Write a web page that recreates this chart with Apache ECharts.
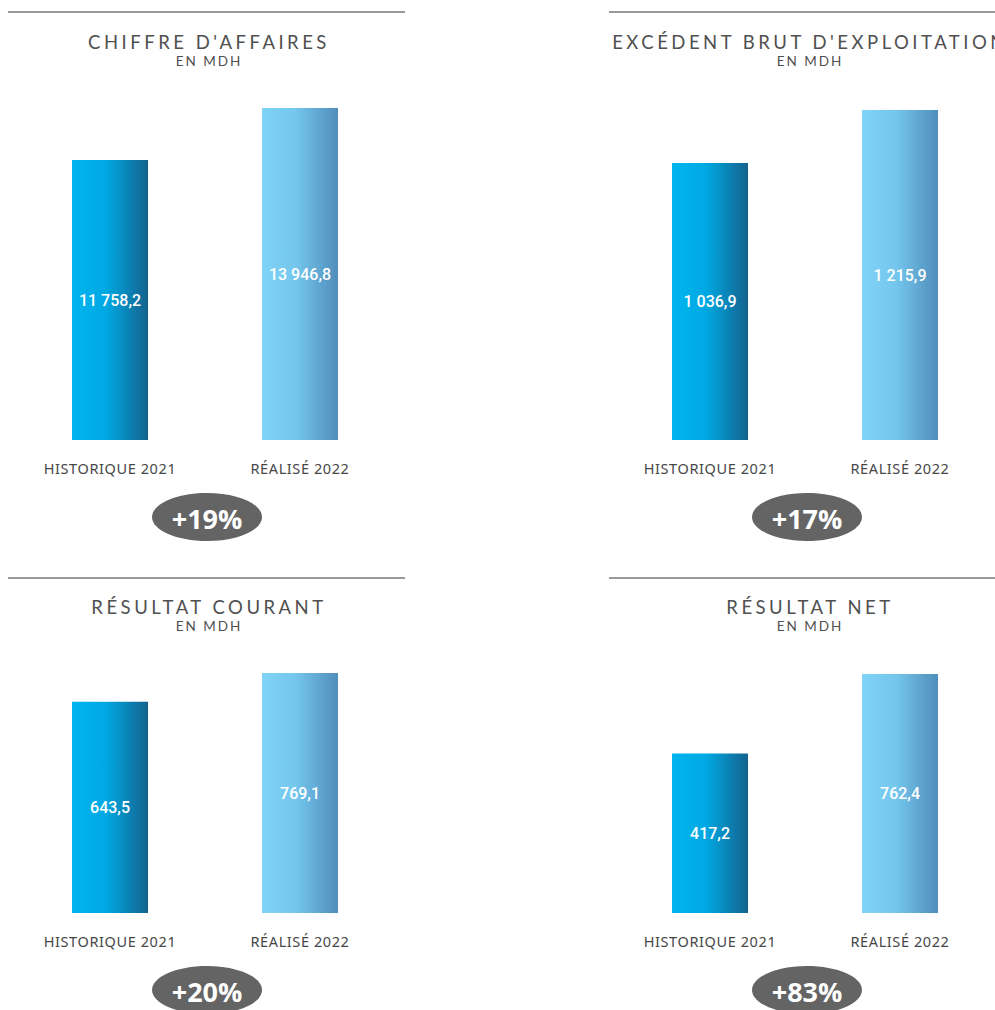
<!DOCTYPE html>
<html>
<head>
<meta charset="utf-8">
<script src="https://cdn.jsdelivr.net/npm/echarts@6/dist/echarts.min.js"></script>
<style>
  html, body { margin: 0; padding: 0; background: #fff; }
  #box { width: 995px; height: 1010px; }
  /* spaced capitals for the titles and axis labels (svg renderer) */
  #box text[style*="18.5px"] { letter-spacing: 3.5px; }
  #box text[style*="13.5px"] { letter-spacing: 2px; }
  #box text[style*="14.5px"] { letter-spacing: 0.6px; }
</style>
</head>
<body>
<div id="box"></div>
<script>
// categories and values, one array per panel
const categories = ['HISTORIQUE 2021', 'RÉALISÉ 2022'];
const panelTitles = ["CHIFFRE D'AFFAIRES", "EXCÉDENT BRUT D'EXPLOITATION", 'RÉSULTAT COURANT', 'RÉSULTAT NET'];
const unitLabel = 'EN MDH';
const chiffreAffaires = [11758.2, 13946.8];
const excedentBrut = [1036.9, 1215.9];
const resultatCourant = [643.5, 769.1];
const resultatNet = [417.2, 762.4];

const panelData = [chiffreAffaires, excedentBrut, resultatCourant, resultatNet];

// layout of each panel (axis min)
const panels = [
  { cx: 204, bx: 205, lineX: [8, 405], lineY: 12, titleY: 27, gridTop: 108, gridBottom: 440, min: 0 },
  { cx: 805, bx: 805, lineX: [609, 995], lineY: 12, titleY: 27, gridTop: 110, gridBottom: 440, min: 100 },
  { cx: 204, bx: 205, lineX: [8, 405], lineY: 578, titleY: 592, gridTop: 673, gridBottom: 913, min: -275 },
  { cx: 805, bx: 805, lineX: [609, 995], lineY: 578, titleY: 592, gridTop: 674, gridBottom: 913, min: -275 }
];

function fmt(v) {
  let parts = v.toFixed(1).split('.');
  let ent = parts[0].replace(/\B(?=(\d{3})+(?!\d))/g, ' ');
  return ent + ',' + parts[1];
}

function grad(c1, c2, c3) {
  return new echarts.graphic.LinearGradient(0, 0, 1, 0, [
    { offset: 0, color: c1 },
    { offset: 0.45, color: c2 },
    { offset: 1, color: c3 }
  ]);
}
const barColors = [
  () => grad('#00b5f0', '#00a8e2', '#14628e'),
  () => grad('#80d4f6', '#74c6ed', '#4f8dbb')
];

let myChart = echarts.init(document.getElementById('box'), null, { renderer: 'svg' });

let titles = [], grids = [], xAxes = [], yAxes = [], series = [], graphics = [];

panels.forEach((p, i) => {
  titles.push({
    text: panelTitles[i],
    subtext: unitLabel,
    left: p.cx,
    top: p.titleY,
    textAlign: 'center',
    itemGap: 3,
    textStyle: { fontFamily: 'Lato', fontSize: 18.5, fontWeight: 'normal', color: '#505050' },
    subtextStyle: { fontFamily: 'Lato', fontSize: 13.5, color: '#505050' }
  });
  grids.push({
    left: p.bx - 190,
    width: 380,
    top: p.gridTop,
    height: p.gridBottom - p.gridTop
  });
  xAxes.push({
    type: 'category',
    gridIndex: i,
    data: categories,
    axisLine: { show: false },
    axisTick: { show: false },
    axisLabel: { margin: 20, fontFamily: 'Noto Sans', fontSize: 14.5, color: '#474747' }
  });
  yAxes.push({
    type: 'value',
    gridIndex: i,
    min: p.min,
    max: 'dataMax',
    show: false,
    splitLine: { show: false }
  });
  // bars drawn from the bottom of the axis (min) up to the value
  series.push({
    type: 'custom',
    xAxisIndex: i,
    yAxisIndex: i,
    encode: { x: 0, y: 1 },
    data: panelData[i].map((v, j) => [j, v]),
    renderItem: function (params, api) {
      let idx = api.value(0);
      let top = api.coord([idx, api.value(1)]);
      let base = api.coord([idx, p.min]);
      return {
        type: 'rect',
        shape: { x: top[0] - 38, y: top[1], width: 76, height: base[1] - top[1] },
        style: { fill: barColors[idx]() },
        textContent: {
          style: {
            text: fmt(api.value(1)),
            fill: '#fff',
            font: '500 16px Roboto, sans-serif'
          }
        },
        textConfig: { position: 'inside' }
      };
    }
  });
  // top rule
  graphics.push({
    type: 'line',
    shape: { x1: p.lineX[0], y1: p.lineY, x2: p.lineX[1], y2: p.lineY },
    style: { stroke: '#777', lineWidth: 1.5 }
  });
  // growth badge
  let growth = Math.round((panelData[i][1] / panelData[i][0] - 1) * 100);
  let badgeY = p.gridBottom + 77;
  graphics.push({
    type: 'ellipse',
    shape: { cx: p.bx + 2, cy: badgeY, rx: 55, ry: 24 },
    style: { fill: '#646464' }
  });
  graphics.push({
    type: 'text',
    x: p.bx + 2,
    y: badgeY + 1,
    style: {
      text: '+' + growth + '%',
      fill: '#fff',
      font: 'bold 27px "Open Sans", sans-serif',
      align: 'center',
      verticalAlign: 'middle'
    }
  });
});

var option = {
  backgroundColor: '#fff',
  animation: false,
  title: titles,
  grid: grids,
  xAxis: xAxes,
  yAxis: yAxes,
  series: series,
  graphic: graphics
};

myChart.setOption(option);
</script>
</body>
</html>
